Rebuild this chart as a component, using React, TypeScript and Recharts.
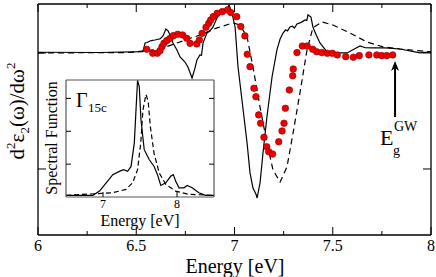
import React from 'react';
import { ComposedChart, LineChart, Line, Scatter, XAxis, YAxis, ReferenceLine, CartesianGrid } from 'recharts';

const FONT = 'Liberation Serif, DejaVu Serif, Times New Roman, serif';

// Main panel: theory (solid)
const theoryE = [6.0, 6.316, 6.534, 6.545, 6.555, 6.57, 6.582, 6.595, 6.61, 6.621, 6.636, 6.651, 6.662, 6.672, 6.687, 6.707, 6.723, 6.748, 6.763, 6.784, 6.799, 6.809, 6.824, 6.832, 6.84, 6.85, 6.86, 6.875, 6.891, 6.91, 6.926, 6.947, 6.962, 6.972, 6.987, 7.003, 7.018, 7.038, 7.064, 7.079, 7.094, 7.104, 7.11, 7.115, 7.13, 7.145, 7.165, 7.191, 7.216, 7.232, 7.247, 7.26, 7.27, 7.282, 7.295, 7.305, 7.318, 7.333, 7.345, 7.359, 7.368, 7.374, 7.382, 7.389, 7.399, 7.417, 7.435, 7.471, 7.501, 7.573, 7.605, 7.639, 7.665, 7.705, 7.766, 7.842, 7.944, 8.0];
const theoryV = [0.006, 0.004, 0.011, 0.086, 0.09, 0.103, 0.108, 0.112, 0.118, 0.121, 0.147, 0.207, 0.19, 0.155, 0.086, 0.026, -0.034, -0.078, -0.121, -0.216, -0.129, -0.06, -0.017, -0.02, 0.086, 0.13, 0.172, 0.19, 0.224, 0.3, 0.345, 0.353, 0.371, 0.414, 0.345, 0.224, -0.121, -0.405, -0.776, -1.034, -1.164, -1.198, -1.22, -1.25, -1.121, -0.862, -0.552, -0.207, 0.026, 0.12, 0.172, 0.2, 0.19, 0.224, 0.23, 0.215, 0.25, 0.259, 0.27, 0.284, 0.28, 0.328, 0.318, 0.31, 0.224, 0.15, 0.086, 0.009, 0.0, 0.0, 0.03, 0.06, 0.045, 0.043, 0.043, 0.034, 0.0, 0.009];

// Main panel: model (dashed)
const modelE = [6.0, 6.468, 6.621, 6.707, 6.824, 6.911, 6.992, 7.028, 7.064, 7.094, 7.13, 7.165, 7.196, 7.232, 7.267, 7.298, 7.333, 7.369, 7.399, 7.445, 7.501, 7.588, 7.674, 7.756, 7.842, 8.0];
const modelV = [0.0, 0.004, 0.034, 0.086, 0.155, 0.216, 0.259, 0.241, 0.138, -0.121, -0.466, -0.776, -1.009, -1.112, -0.983, -0.69, -0.345, 0.026, 0.216, 0.267, 0.241, 0.172, 0.095, 0.052, 0.034, 0.009];

// Main panel: experiment (red dots)
const exptE = [6.553, 6.584, 6.607, 6.621, 6.631, 6.641, 6.655, 6.672, 6.689, 6.711, 6.736, 6.757, 6.774, 6.808, 6.821, 6.835, 6.855, 6.869, 6.879, 6.892, 6.912, 6.938, 6.965, 6.981, 7.011, 7.032, 7.053, 7.065, 7.079, 7.099, 7.109, 7.123, 7.133, 7.15, 7.164, 7.174, 7.194, 7.225, 7.242, 7.252, 7.259, 7.279, 7.296, 7.299, 7.318, 7.345, 7.37, 7.398, 7.418, 7.444, 7.472, 7.498, 7.523, 7.566, 7.605, 7.635, 7.684, 7.724, 7.749, 7.775, 7.805];
const exptV = [0.032, -0.003, -0.003, 0.02, 0.054, 0.083, 0.106, 0.126, 0.149, 0.161, 0.155, 0.126, 0.083, 0.078, 0.112, 0.169, 0.221, 0.256, 0.284, 0.313, 0.342, 0.356, 0.371, 0.348, 0.313, 0.227, 0.147, -0.011, -0.118, -0.304, -0.377, -0.534, -0.606, -0.727, -0.808, -0.851, -0.871, -0.765, -0.672, -0.606, -0.477, -0.319, -0.196, -0.138, 0.003, 0.06, 0.06, 0.032, 0.011, 0.003, -0.003, -0.003, -0.017, -0.032, -0.037, -0.023, -0.017, -0.017, -0.023, -0.023, -0.017];

// Inset: spectral function
const insetSolidE = [6.5, 6.863, 6.953, 7.043, 7.132, 7.221, 7.279, 7.333, 7.379, 7.423, 7.446, 7.467, 7.49, 7.513, 7.557, 7.624, 7.691, 7.736, 7.781, 7.848, 7.915, 7.95, 7.983, 8.027, 8.094, 8.138, 8.205, 8.295, 8.385, 8.5];
const insetSolidV = [0.05, 0.05, 0.18, 0.43, 0.68, 0.78, 0.83, 0.78, 0.93, 1.64, 2.65, 3.55, 3.36, 2.35, 1.44, 1.14, 0.93, 0.68, 0.35, 0.43, 0.63, 0.68, 0.48, 0.28, 0.28, 0.35, 0.28, 0.13, 0.05, 0.05];
const insetDashE = [6.5, 7.13, 7.31, 7.4, 7.467, 7.51, 7.54, 7.58, 7.61, 7.64, 7.69, 7.76, 7.85, 7.98, 8.16, 8.5];
const insetDashV = [0.05, 0.13, 0.23, 0.43, 0.83, 1.64, 2.65, 3.12, 2.92, 2.14, 1.33, 0.73, 0.38, 0.18, 0.08, 0.05];

const mainXTicks = [6, 6.25, 6.5, 6.75, 7, 7.25, 7.5, 7.75, 8];
const mainYTicks = [-1, 0];
const insetXTicks = [7, 8];
const insetYTicks = [1, 2, 3];
const gapArrowE = 7.817;
const gapArrowFrom = -0.552;
const gapArrowTo = -0.069;

const zip = (xs: number[], ys: number[]) => xs.map((x, i) => ({ x, y: ys[i] }));
const theoryData = zip(theoryE, theoryV);
const modelData = zip(modelE, modelV);
const exptData = zip(exptE, exptV);
const insetSolid = zip(insetSolidE, insetSolidV);
const insetDash = zip(insetDashE, insetDashV);

const isMajor = (v: number) => Math.abs(v * 2 - Math.round(v * 2)) < 1e-6;
const txt = { fontFamily: FONT, fill: '#000' };

const BottomTick = (p: any) => {
  const { x, y, payload } = p;
  const v = payload.value;
  const major = isMajor(v);
  return (
    <g>
      <line x1={x} x2={x} y1={y} y2={y - (major ? 8 : 4)} stroke="#000" strokeWidth={1} />
      {major && (
        <text x={x} y={y + 15.5} textAnchor="middle" fontSize={16} style={txt}>{String(v)}</text>
      )}
    </g>
  );
};
const TopTick = (p: any) => {
  const { x, y, payload } = p;
  const major = isMajor(payload.value);
  return <line x1={x} x2={x} y1={y} y2={y + (major ? 8 : 4)} stroke="#000" strokeWidth={1} />;
};
const LeftTick = (p: any) => {
  const { x, y } = p;
  return <line x1={x} x2={x + 8} y1={y} y2={y} stroke="#000" strokeWidth={1} />;
};
const RightTick = (p: any) => {
  const { x, y } = p;
  return <line x1={x} x2={x - 8} y1={y} y2={y} stroke="#000" strokeWidth={1} />;
};

const InsetBottomTick = (p: any) => {
  const { x, y, payload } = p;
  return (
    <g>
      <line x1={x} x2={x} y1={y} y2={y - 5} stroke="#000" strokeWidth={1} />
      <text x={x} y={y + 11} textAnchor="middle" fontSize={12} style={txt}>{String(payload.value)}</text>
    </g>
  );
};
const InsetLeftTick = (p: any) => <line x1={p.x} x2={p.x + 5} y1={p.y} y2={p.y} stroke="#000" strokeWidth={1} />;
const InsetRightTick = (p: any) => <line x1={p.x} x2={p.x - 5} y1={p.y} y2={p.y} stroke="#000" strokeWidth={1} />;
const NoTick = () => <g />;

const RedDot = (p: any) => (
  <circle cx={p.cx} cy={p.cy} r={3.3} fill="#ee0000" stroke="#8a0000" strokeWidth={0.6} />
);

const ArrowShape = (p: any) => {
  const { x1, y1, x2, y2 } = p;
  const top = Math.min(y1, y2);
  const bot = Math.max(y1, y2);
  const x = x1;
  return (
    <g>
      <line x1={x} x2={x} y1={bot} y2={top + 6} stroke="#000" strokeWidth={2} />
      <polygon points={`${x},${top} ${x - 4},${top + 10} ${x},${top + 7} ${x + 4},${top + 10}`} fill="#000" />
    </g>
  );
};

const axisStroke = { stroke: '#000', strokeWidth: 1.3 };
const insetAxisStroke = { stroke: '#555', strokeWidth: 1.2 };
const MAIN_Y: [number, number] = [-1.569, 0.422];
const INSET_Y: [number, number] = [0, 3.56];

export default function App() {
  return (
    <div style={{ position: 'absolute', left: 0, top: 0, width: 436, height: 277, background: '#fff' }}>
      <div style={{ position: 'absolute', left: 0, top: 0 }}>
        <ComposedChart width={436} height={277} margin={{ top: 2, right: 3, bottom: 12, left: 36 }}>
          <XAxis xAxisId="b" type="number" dataKey="x" domain={[6, 8]} ticks={mainXTicks} allowDataOverflow
            height={30} tickLine={false} tickSize={0} tickMargin={0} axisLine={axisStroke} tick={BottomTick} interval={0} />
          <XAxis xAxisId="t" orientation="top" type="number" dataKey="x" domain={[6, 8]} ticks={mainXTicks} allowDataOverflow
            height={2} tickLine={false} tickSize={0} tickMargin={0} axisLine={axisStroke} tick={TopTick} interval={0} />
          <YAxis yAxisId="l" type="number" dataKey="y" domain={MAIN_Y} ticks={mainYTicks} allowDataOverflow
            width={2} tickLine={false} tickSize={0} tickMargin={0} axisLine={axisStroke} tick={LeftTick} interval={0} />
          <YAxis yAxisId="r" orientation="right" type="number" dataKey="y" domain={MAIN_Y} ticks={mainYTicks} allowDataOverflow
            width={2} tickLine={false} tickSize={0} tickMargin={0} axisLine={axisStroke} tick={RightTick} interval={0} />
          <Line xAxisId="b" yAxisId="l" data={modelData} dataKey="y" type="linear" stroke="#000" strokeWidth={1.2}
            strokeDasharray="6 4" dot={false} isAnimationActive={false} />
          <Line xAxisId="b" yAxisId="l" data={theoryData} dataKey="y" type="linear" stroke="#000" strokeWidth={1.2}
            dot={false} isAnimationActive={false} />
          <Scatter xAxisId="b" yAxisId="l" data={exptData} dataKey="y" shape={RedDot} isAnimationActive={false} />
          <ReferenceLine xAxisId="b" yAxisId="l" segment={[{ x: gapArrowE, y: gapArrowFrom }, { x: gapArrowE, y: gapArrowTo }]}
            shape={ArrowShape} stroke="#000" />
        </ComposedChart>
      </div>
      <div style={{ position: 'absolute', left: 30, top: 70 }}>
        <LineChart width={190} height={165} margin={{ top: 8, right: 4, bottom: 8, left: 34 }}>
          <CartesianGrid xAxisId="b" yAxisId="l" horizontal={false} vertical={false} fill="#fff" />
          <XAxis xAxisId="b" type="number" dataKey="x" domain={[6.5, 8.5]} ticks={insetXTicks} allowDataOverflow
            height={30} tickLine={false} tickSize={0} tickMargin={0} axisLine={insetAxisStroke} tick={InsetBottomTick} interval={0} />
          <XAxis xAxisId="t" orientation="top" type="number" dataKey="x" domain={[6.5, 8.5]} ticks={insetXTicks} allowDataOverflow
            height={2} tickLine={false} tickSize={0} tickMargin={0} axisLine={insetAxisStroke} tick={NoTick} interval={0} />
          <YAxis yAxisId="l" type="number" dataKey="y" domain={INSET_Y} ticks={insetYTicks} allowDataOverflow
            width={2} tickLine={false} tickSize={0} tickMargin={0} axisLine={insetAxisStroke} tick={InsetLeftTick} interval={0} />
          <YAxis yAxisId="r" orientation="right" type="number" dataKey="y" domain={INSET_Y} ticks={insetYTicks} allowDataOverflow
            width={2} tickLine={false} tickSize={0} tickMargin={0} axisLine={insetAxisStroke} tick={InsetRightTick} interval={0} />
          <Line xAxisId="b" yAxisId="l" data={insetDash} dataKey="y" type="linear" stroke="#000" strokeWidth={1.2}
            strokeDasharray="5 3" dot={false} isAnimationActive={false} />
          <Line xAxisId="b" yAxisId="l" data={insetSolid} dataKey="y" type="linear" stroke="#000" strokeWidth={1.2}
            dot={false} isAnimationActive={false} />
        </LineChart>
      </div>
      <svg width={436} height={277} style={{ position: 'absolute', left: 0, top: 0, pointerEvents: 'none' }}>
        <text x={235} y={273} textAnchor="middle" fontSize={20} style={txt}>Energy [eV]</text>
        <text transform="translate(24,111) rotate(-90)" textAnchor="middle" fontSize={21} style={txt}>
          d<tspan fontSize={13} dy={-9}>2</tspan><tspan dy={9}>ε</tspan><tspan fontSize={13} dy={5}>2</tspan><tspan dy={-5}>(ω)/dω</tspan><tspan fontSize={13} dy={-9}>2</tspan>
        </text>
        <text x={380} y={145} fontSize={22} style={txt}>E</text>
        <text x={394} y={131} fontSize={14} style={txt}>GW</text>
        <text x={393} y={155} fontSize={14} style={txt}>g</text>
        <text transform="translate(56.5,138) rotate(-90)" textAnchor="middle" fontSize={16} style={txt}>Spectral Function</text>
        <text x={140} y={226} textAnchor="middle" fontSize={16} style={txt}>Energy [eV]</text>
        <text x={76} y={107} fontSize={20} style={txt}>Γ</text>
        <text x={88} y={112} fontSize={13} style={txt}>15c</text>
      </svg>
    </div>
  );
}
